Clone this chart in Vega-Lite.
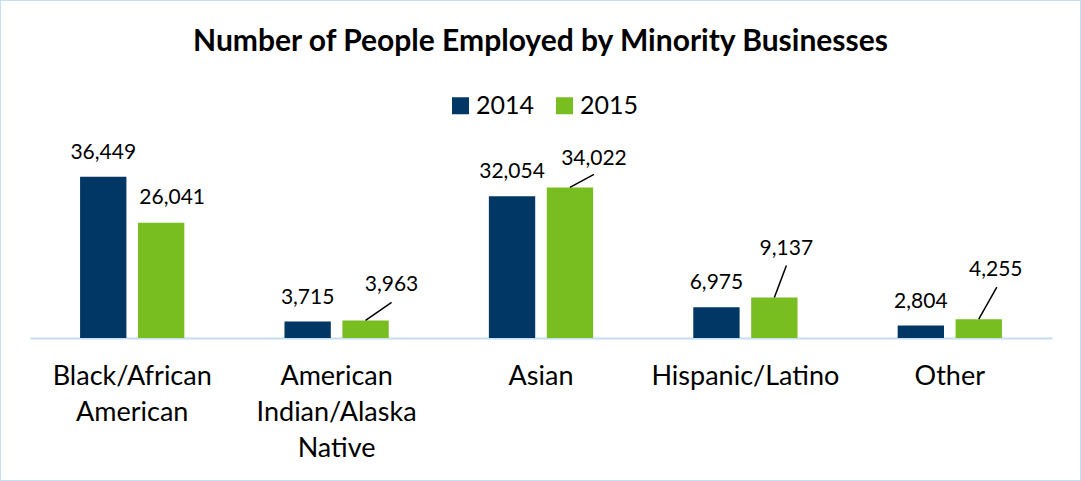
{
  "$schema": "https://vega.github.io/schema/vega-lite/v6.json",
  "width": 1081,
  "height": 481,
  "autosize": "none",
  "padding": 0,
  "background": "white",
  "config": {
    "view": {"stroke": "#c4def4", "strokeWidth": 2},
    "font": "Lato"
  },
  "title": {
    "text": "Number of People Employed by Minority Businesses",
    "font": "Lato",
    "fontSize": 30,
    "fontWeight": "bold",
    "color": "black",
    "anchor": "middle",
    "frame": "group",
    "baseline": "alphabetic",
    "offset": -81
  },
  "data": {
    "values": [
      {"Category": "Black/African American", "Year": "2014", "Employees": 36449},
      {"Category": "Black/African American", "Year": "2015", "Employees": 26041},
      {"Category": "American Indian/Alaska Native", "Year": "2014", "Employees": 3715},
      {"Category": "American Indian/Alaska Native", "Year": "2015", "Employees": 3963},
      {"Category": "Asian", "Year": "2014", "Employees": 32054},
      {"Category": "Asian", "Year": "2015", "Employees": 34022},
      {"Category": "Hispanic/Latino", "Year": "2014", "Employees": 6975},
      {"Category": "Hispanic/Latino", "Year": "2015", "Employees": 9137},
      {"Category": "Other", "Year": "2014", "Employees": 2804},
      {"Category": "Other", "Year": "2015", "Employees": 4255}
    ]
  },
  "encoding": {
    "x": {
      "field": "Category",
      "type": "nominal",
      "sort": null,
      "scale": {"range": [30, 1052], "paddingInner": 0.49, "paddingOuter": 0.245},
      "axis": {
        "title": null,
        "ticks": false,
        "tickSize": 0,
        "domainColor": "#c4def4",
        "domainWidth": 2,
        "offset": -143,
        "labelAngle": 0,
        "labelFont": "Lato",
        "labelFontSize": 27,
        "labelColor": "black",
        "labelPadding": 25,
        "labelBaseline": "top",
        "labelLineHeight": 36,
        "labelLimit": 0,
        "labelExpr": "datum.label == 'Black/African American' ? ['Black/African', 'American'] : datum.label == 'American Indian/Alaska Native' ? ['American', 'Indian/Alaska', 'Native'] : datum.label"
      }
    },
    "xOffset": {
      "field": "Year",
      "type": "nominal",
      "scale": {"paddingInner": 0.2, "paddingOuter": 0}
    },
    "y": {
      "field": "Employees",
      "type": "quantitative",
      "scale": {"domain": [0, 40000], "range": [338, 161], "nice": false},
      "axis": null
    }
  },
  "layer": [
    {
      "mark": {"type": "bar"},
      "encoding": {
        "color": {
          "field": "Year",
          "type": "nominal",
          "scale": {"domain": ["2014", "2015"], "range": ["#003764", "#78be20"]},
          "legend": {
            "title": null,
            "orient": "none",
            "legendX": 448,
            "legendY": 93,
            "direction": "horizontal",
            "symbolType": "square",
            "symbolSize": 289,
            "symbolStrokeWidth": 0,
            "labelFont": "Lato",
            "labelFontSize": 25,
            "labelColor": "black",
            "labelOffset": 3,
            "columnPadding": 17,
            "padding": 0
          }
        }
      }
    },
    {
      "transform": [{"filter": "datum.Year == '2014'"}],
      "mark": {"type": "text", "font": "Lato", "fontSize": 21, "color": "black", "baseline": "alphabetic", "dy": -18},
      "encoding": {"text": {"field": "Employees", "type": "quantitative", "format": ","}}
    },
    {
      "transform": [{"filter": "datum.Year == '2015' && datum.Category == 'Black/African American'"}],
      "mark": {"type": "text", "font": "Lato", "fontSize": 21, "color": "black", "baseline": "alphabetic", "dx": 11, "dy": -19},
      "encoding": {"text": {"field": "Employees", "type": "quantitative", "format": ","}}
    },
    {
      "transform": [{"filter": "datum.Year == '2015' && datum.Category == 'American Indian/Alaska Native'"}],
      "mark": {"type": "text", "font": "Lato", "fontSize": 21, "color": "black", "baseline": "alphabetic", "dx": 26, "dy": -29},
      "encoding": {"text": {"field": "Employees", "type": "quantitative", "format": ","}}
    },
    {
      "transform": [{"filter": "datum.Year == '2015' && datum.Category == 'Asian'"}],
      "mark": {"type": "text", "font": "Lato", "fontSize": 21, "color": "black", "baseline": "alphabetic", "dx": 24, "dy": -22},
      "encoding": {"text": {"field": "Employees", "type": "quantitative", "format": ","}}
    },
    {
      "transform": [{"filter": "datum.Year == '2015' && datum.Category == 'Hispanic/Latino'"}],
      "mark": {"type": "text", "font": "Lato", "fontSize": 21, "color": "black", "baseline": "alphabetic", "dx": 12, "dy": -43},
      "encoding": {"text": {"field": "Employees", "type": "quantitative", "format": ","}}
    },
    {
      "transform": [{"filter": "datum.Year == '2015' && datum.Category == 'Other'"}],
      "mark": {"type": "text", "font": "Lato", "fontSize": 21, "color": "black", "baseline": "alphabetic", "dx": 17, "dy": -43},
      "encoding": {"text": {"field": "Employees", "type": "quantitative", "format": ","}}
    },
    {
      "transform": [{"filter": "datum.Year == '2015' && datum.Category == 'American Indian/Alaska Native'"}],
      "mark": {"type": "rule", "color": "black", "strokeWidth": 1.5, "x2Offset": 55, "y2Offset": -18},
      "encoding": {"x2": {"field": "Category"}, "y2": {"field": "Employees"}}
    },
    {
      "transform": [{"filter": "datum.Year == '2015' && datum.Category == 'Asian'"}],
      "mark": {"type": "rule", "color": "black", "strokeWidth": 1.5, "x2Offset": 53, "y2Offset": -13},
      "encoding": {"x2": {"field": "Category"}, "y2": {"field": "Employees"}}
    },
    {
      "transform": [{"filter": "datum.Year == '2015' && datum.Category == 'Hispanic/Latino'"}],
      "mark": {"type": "rule", "color": "black", "strokeWidth": 1.5, "x2Offset": 41, "y2Offset": -32},
      "encoding": {"x2": {"field": "Category"}, "y2": {"field": "Employees"}}
    },
    {
      "transform": [{"filter": "datum.Year == '2015' && datum.Category == 'Other'"}],
      "mark": {"type": "rule", "color": "black", "strokeWidth": 1.5, "x2Offset": 47, "y2Offset": -32},
      "encoding": {"x2": {"field": "Category"}, "y2": {"field": "Employees"}}
    }
  ]
}
